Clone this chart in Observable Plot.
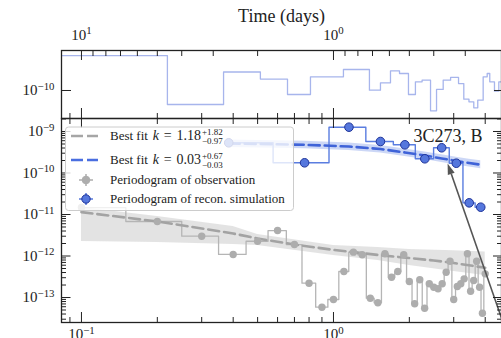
<!DOCTYPE html>
<html><head><meta charset="utf-8">
<script src="https://cdn.jsdelivr.net/npm/d3@7"></script>
<script src="https://cdn.jsdelivr.net/npm/@observablehq/plot@0.6"></script>
<style>
html,body{margin:0;padding:0;background:#fff;overflow:hidden;}
#chart{position:relative;width:501px;height:338px;}
#chart svg{position:absolute;left:0;display:block;}
</style></head><body><div id="chart"></div>
<script>
// ---------------- data ----------------
const freqMajor = [0.1, 1];
const freqMinor = [0.09, 0.2, 0.3, 0.4, 0.5, 0.6, 0.7, 0.8, 0.9, 2, 3, 4];
const timeMajor = [10, 1];
const timeMinor = [9, 8, 7, 6, 5, 4, 3, 2, 0.9, 0.8, 0.7, 0.6, 0.5, 0.4, 0.3];
const topYMajor = [1e-10];
const botYDecades = [-13, -12, -11, -10, -9];
const minorMult = [2, 3, 4, 5, 6, 7, 8, 9];

// top panel: step edges (days) and levels
const topEdgesDays = [12.5, 4.56, 2.73, 1.95, 1.522, 1.234, 0.913, 0.720, 0.651, 0.594, 0.547, 0.504, 0.473, 0.445, 0.412, 0.390, 0.367, 0.343, 0.319, 0.304, 0.290, 0.2775, 0.2676, 0.2547, 0.2455, 0.2398, 0.2297, 0.2208, 0.2077];
const topLevels = [6.9e-10, 4.60e-11, 2.79e-10, 1.89e-10, 8.01e-11, 2.14e-10, 3.21e-10, 1.02e-10, 1.53e-10, 2.98e-10, 2.57e-10, 8.01e-11, 1.62e-10, 1.77e-10, 3.24e-11, 1.06e-10, 1.77e-10, 2.06e-10, 1.47e-10, 6.17e-11, 5.34e-11, 3.83e-11, 5.84e-11, 2.14e-10, 2.57e-10, 1.62e-10, 9.62e-11, 1.62e-10];

// periodogram of observation
const obsFreq = [0.1, 0.2, 0.3, 0.4, 0.5, 0.6, 0.7, 0.8, 0.9, 1.0, 1.1, 1.2, 1.3, 1.4, 1.5, 1.6, 1.7, 1.8, 1.9, 2.0, 2.1, 2.2, 2.3, 2.4, 2.5, 2.6, 2.7, 2.8, 2.9, 3.0, 3.1, 3.2, 3.3, 3.4, 3.5, 3.6, 3.7, 3.8, 3.9, 4.0];
const obsPower = [1.47e-11, 6.78e-12, 3.00e-12, 1.09e-12, 2.27e-12, 4.11e-12, 1.89e-12, 2.21e-13, 5.84e-14, 8.95e-14, 4.23e-13, 1.24e-12, 1.07e-12, 9.62e-14, 7.45e-14, 1.13e-12, 3.08e-13, 4.23e-13, 1.07e-12, 2.43e-13, 7.05e-14, 2.67e-13, 5.52e-14, 2.14e-13, 1.77e-13, 1.62e-13, 2.14e-13, 4.07e-13, 7.49e-13, 8.95e-14, 1.84e-13, 2.14e-13, 2.82e-13, 1.13e-12, 1.42e-13, 2.57e-13, 7.49e-13, 1.77e-13, 4.19e-14, 3.72e-13];
// best fit for observation
const obsFitFreq = [0.1, 0.2, 0.3, 0.4, 0.5, 0.7, 1.0, 1.5, 2.0, 2.5, 3.0, 3.5, 4.0];
const obsFit = [1.14e-11, 6.78e-12, 4.60e-12, 3.48e-12, 2.64e-12, 1.89e-12, 1.40e-12, 1.06e-12, 8.95e-13, 7.79e-13, 6.78e-13, 5.90e-13, 5.20e-13];
const obsBandFreq = [0.1, 0.2, 0.4, 0.5, 1.0, 1.5, 2.0, 3.0, 4.0];
const obsBandHi = [1.47e-11, 8.95e-12, 5.14e-12, 3.3e-12, 1.79e-12, 1.6e-12, 1.43e-12, 1.33e-12, 1.25e-12];
const obsBandLo = [2.24e-12, 2.11e-12, 1.89e-12, 1.79e-12, 1.03e-12, 7.79e-13, 5.90e-13, 4.23e-13, 3.39e-13];

// periodogram of reconstructed simulation
const simFreq = [0.384, 0.768, 1.152, 1.536, 1.92, 2.304, 2.688, 3.072, 3.456, 3.84];
const simPower = [5.34e-10, 1.76e-10, 1.27e-9, 5.74e-10, 4.78e-10, 2.20e-10, 4.05e-10, 1.72e-10, 1.91e-11, 1.50e-11];
const simFit = [5.14e-10, 4.78e-10, 4.35e-10, 3.79e-10, 3.12e-10, 2.64e-10, 2.24e-10, 1.95e-10, 1.74e-10, 1.58e-10];
const simBandHi = [6.2e-10, 5.8e-10, 5.3e-10, 4.6e-10, 3.8e-10, 3.2e-10, 2.75e-10, 2.4e-10, 2.15e-10, 1.97e-10];
const simBandLo = [4.1e-10, 3.85e-10, 3.5e-10, 3.05e-10, 2.5e-10, 2.12e-10, 1.8e-10, 1.56e-10, 1.39e-10, 1.26e-10];

// annotation arrow [freq, power]
const arrowTail = [5.0, 9.2e-15];
const arrowTip = [2.85, 1.65e-10];

const panelLabel = "3C273, B";
const timeTitle = "Time (days)";
const legendFits = [
  {val: "1.18", up: "+1.82", dn: "\u22120.97", color: "#a6a6a6"},
  {val: "0.03", up: "+0.67", dn: "\u22120.03", color: "#4a6ee0"}
];
const legendPts = [
  {text: "Periodogram of observation", fill: "#adadad", stroke: "#adadad", bar: "#adadad"},
  {text: "Periodogram of recon. simulation", fill: "#5577dd", stroke: "#1e3399", bar: "#5577dd"}
];

// ---------------- helpers ----------------
const FONT = '"Liberation Serif", "Times New Roman", serif';
const W = 501, ML = 61;
const xDomain = [1 / 12.0, 4.642];
const topYDomain = [10 ** -10.675, 10 ** -9.036];
const botYDomain = [10 ** -13.602, 10 ** -8.687];
const pow10 = v => `10^${Math.round(Math.log10(v))}`;
const blank = () => "";
const style = {fontFamily: FONT, fontSize: "15px", background: "transparent", color: "#222", overflow: "visible"};

function midSteps(fs, vs) {
  const out = [{f: fs[0], v: vs[0]}];
  for (let i = 1; i < fs.length; i++) out.push({f: (fs[i - 1] + fs[i]) / 2, v: vs[i]});
  out.push({f: fs[fs.length - 1], v: vs[vs.length - 1]});
  return out;
}
const zip = (fs, vs) => fs.map((f, i) => ({f, v: vs[i]}));

const topSteps = topLevels.map((v, i) => ({f: 1 / topEdgesDays[i], v}));
topSteps.push({f: 1 / topEdgesDays[topEdgesDays.length - 1], v: topLevels[topLevels.length - 1]});

const botYMajor = botYDecades.map(e => 10 ** e);
const botYMinor = [];
for (const e of [-14, ...botYDecades]) for (const m of minorMult) {
  const v = m * 10 ** e;
  if (v > botYDomain[0] && v < botYDomain[1]) botYMinor.push(v);
}
const timeMajorF = timeMajor.map(t => 1 / t);
const timeMinorF = timeMinor.map(t => 1 / t);

const obsBand = obsBandFreq.map((f, i) => ({f, lo: obsBandLo[i], hi: obsBandHi[i]}));
const simBand = simFreq.map((f, i) => ({f, lo: simBandLo[i], hi: simBandHi[i]}));

const canvas = document.createElement("canvas").getContext("2d");
function textWidth(s, size, italic) {
  canvas.font = `${italic ? "italic " : ""}${size}px "Liberation Serif"`;
  return canvas.measureText(s).width;
}

// ---------------- top panel ----------------
const topPlot = Plot.plot({
  width: W, height: 119, marginLeft: ML, marginRight: 0, marginTop: 50, marginBottom: 1,
  style,
  x: {type: "log", domain: xDomain, label: null},
  y: {type: "log", domain: topYDomain, label: null},
  marks: [
    Plot.line(topSteps, {x: "f", y: "v", curve: "step-after", stroke: "#a7b5ec", strokeWidth: 1.3, clip: true}),
    Plot.frame({stroke: "#222", strokeWidth: 1.3}),
    Plot.axisY(topYMajor, {anchor: "left", tickSize: -10, tickPadding: 17, tickFormat: pow10}),
    Plot.axisY(topYMajor, {anchor: "right", tickSize: -8, tickFormat: blank}),
    Plot.axisX(timeMajorF, {anchor: "top", tickSize: -9, tickPadding: 20, tickFormat: f => pow10(1 / f)}),
    Plot.axisX(timeMinorF, {anchor: "top", tickSize: -5, tickFormat: blank}),
    Plot.axisX(freqMajor, {anchor: "bottom", tickSize: -10, tickFormat: blank}),
    Plot.axisX(freqMinor, {anchor: "bottom", tickSize: -5, tickFormat: blank}),
    Plot.text([timeTitle], {text: d => d, frameAnchor: "top", dy: -29, lineAnchor: "bottom", fontSize: 18, fill: "#222"})
  ]
});

// ---------------- bottom panel ----------------
function arrowMark(index, {x, y}) {
  const x1 = x(arrowTail[0]), y1 = y(arrowTail[1]), x2 = x(arrowTip[0]), y2 = y(arrowTip[1]);
  const a = Math.atan2(y2 - y1, x2 - x1);
  const L = 11, hw = 3.6;
  const bx = x2 - L * Math.cos(a), by = y2 - L * Math.sin(a);
  const g = d3.create("svg:g");
  g.append("line").attr("x1", x1).attr("y1", y1).attr("x2", bx).attr("y2", by)
    .attr("stroke", "#555").attr("stroke-width", 1.6);
  g.append("path")
    .attr("d", `M${x2},${y2}L${bx + hw * Math.sin(a)},${by - hw * Math.cos(a)}L${bx - hw * Math.sin(a)},${by + hw * Math.cos(a)}Z`)
    .attr("fill", "#555");
  return g.node();
}

function legendMark() {
  const g = d3.create("svg:g").attr("font-family", FONT).attr("font-size", 13)
    .attr("fill", "#222").attr("text-anchor", "start");
  g.append("rect").attr("x", 65.5).attr("y", 10).attr("width", 228).attr("height", 83.5).attr("rx", 3)
    .attr("fill", "white").attr("fill-opacity", 0.8).attr("stroke", "#cccccc").attr("stroke-width", 1);
  const rowsY = [19, 43, 63, 82];
  const baseY = [23, 47, 67, 86];
  const textX = 110, valEnd = 201, MS = 14;
  legendFits.forEach((d, i) => {
    g.append("line").attr("x1", 71).attr("x2", 98).attr("y1", rowsY[i]).attr("y2", rowsY[i])
      .attr("stroke", d.color).attr("stroke-width", 2.5).attr("stroke-dasharray", "12,4");
    // lay out "Best fit", "k", "=", value so that the value ends where the scripts begin
    const wA = textWidth("Best fit", 13), wK = textWidth("k", MS, true), wE = textWidth("=", MS), wV = textWidth(d.val, MS);
    const gap = (valEnd - textX - wA - wK - wE - wV) / 3;
    let x = textX;
    g.append("text").attr("x", x).attr("y", baseY[i]).text("Best fit");
    x += wA + gap;
    g.append("text").attr("x", x).attr("y", baseY[i]).attr("font-size", MS).attr("font-style", "italic").text("k");
    x += wK + gap;
    g.append("text").attr("x", x).attr("y", baseY[i]).attr("font-size", MS).text("=");
    x += wE + gap;
    g.append("text").attr("x", valEnd).attr("y", baseY[i]).attr("font-size", MS).attr("text-anchor", "end").text(d.val);
    const sx = valEnd + 1;
    g.append("text").attr("x", sx).attr("y", baseY[i] - 5).attr("font-size", 9).text(d.up);
    g.append("text").attr("x", sx).attr("y", baseY[i] + 3.5).attr("font-size", 9).text(d.dn);
  });
  legendPts.forEach((d, j) => {
    const i = j + 2, cx = 86, cy = rowsY[i];
    g.append("line").attr("x1", cx - 7).attr("x2", cx + 7).attr("y1", cy).attr("y2", cy).attr("stroke", d.bar).attr("stroke-width", 1.5);
    g.append("line").attr("x1", cx).attr("x2", cx).attr("y1", cy - 6).attr("y2", cy + 6).attr("stroke", d.bar).attr("stroke-width", 1.5);
    g.append("circle").attr("cx", cx).attr("cy", cy).attr("r", j ? 4.2 : 3.8).attr("fill", d.fill).attr("stroke", d.stroke).attr("stroke-width", 1);
    g.append("text").attr("x", textX).attr("y", baseY[i]).text(d.text);
  });
  return g.node();
}

const botPlot = Plot.plot({
  width: W, height: 221, marginLeft: ML, marginRight: 0, marginTop: 1, marginBottom: 16,
  style,
  x: {type: "log", domain: xDomain, label: null},
  y: {type: "log", domain: botYDomain, label: null},
  marks: [
    Plot.areaY(obsBand, {x: "f", y1: "lo", y2: "hi", fill: "#e0e0e0", fillOpacity: 0.9, clip: true}),
    Plot.line(midSteps(obsFreq, obsPower), {x: "f", y: "v", curve: "step-after", stroke: "#b5b5b5", strokeWidth: 1.3, clip: true}),
    Plot.line(zip(obsFitFreq, obsFit), {x: "f", y: "v", stroke: "#a3a3a3", strokeWidth: 2.6, strokeDasharray: "11,5", clip: true}),
    Plot.dot(zip(obsFreq, obsPower), {x: "f", y: "v", r: 3.7, fill: "#adadad", clip: true}),
    Plot.areaY(simBand, {x: "f", y1: "lo", y2: "hi", fill: "#b6c6f2", fillOpacity: 0.7, clip: true}),
    Plot.line(midSteps(simFreq, simPower), {x: "f", y: "v", curve: "step-after", stroke: "#5a7de0", strokeWidth: 1.4, clip: true}),
    Plot.line(zip(simFreq, simFit), {x: "f", y: "v", stroke: "#3f63d8", strokeWidth: 2.6, strokeDasharray: "11,5", clip: true}),
    Plot.dot(zip(simFreq, simPower), {x: "f", y: "v", r: 4.3, fill: "#5577dd", stroke: "#1e3399", strokeWidth: 1, clip: true}),
    arrowMark,
    Plot.frame({stroke: "#222", strokeWidth: 1.3}),
    Plot.axisY(botYMajor, {anchor: "left", tickSize: -9.5, tickPadding: 16.5, tickFormat: pow10}),
    Plot.axisY(botYMinor, {anchor: "left", tickSize: -5, tickFormat: blank}),
    Plot.axisY(botYMajor, {anchor: "right", tickSize: -9, tickFormat: blank}),
    Plot.axisY(botYMinor, {anchor: "right", tickSize: -5, tickFormat: blank}),
    Plot.axisX(freqMajor, {anchor: "top", tickSize: -9, tickFormat: blank}),
    Plot.axisX(freqMinor, {anchor: "top", tickSize: -5, tickFormat: blank}),
    Plot.axisX(freqMajor, {anchor: "bottom", tickSize: -10, tickFormat: blank}),
    Plot.axisX(freqMinor, {anchor: "bottom", tickSize: -5, tickFormat: blank}),
    Plot.axisX(freqMajor, {anchor: "bottom", tickSize: 0, tickPadding: 6, tickFormat: pow10}),
    legendMark,
    Plot.text([panelLabel], {text: d => d, frameAnchor: "top-right", dx: -19, dy: 23, lineAnchor: "bottom", fontSize: 18, fill: "#222"})
  ]
});

function supify(svg) {
  d3.select(svg).selectAll("text").each(function () {
    const m = /^10\^(-?\d+)$/.exec(this.textContent);
    if (!m) return;
    const sel = d3.select(this);
    sel.text("10");
    sel.append("tspan").attr("dy", "-0.5em").attr("font-size", "72%").text(m[1].replace("-", "\u2212"));
  });
}
supify(topPlot); supify(botPlot);

const chart = document.getElementById("chart");
topPlot.style.top = "0px";
botPlot.style.top = "117px";
chart.appendChild(topPlot);
chart.appendChild(botPlot);
</script></body></html>
